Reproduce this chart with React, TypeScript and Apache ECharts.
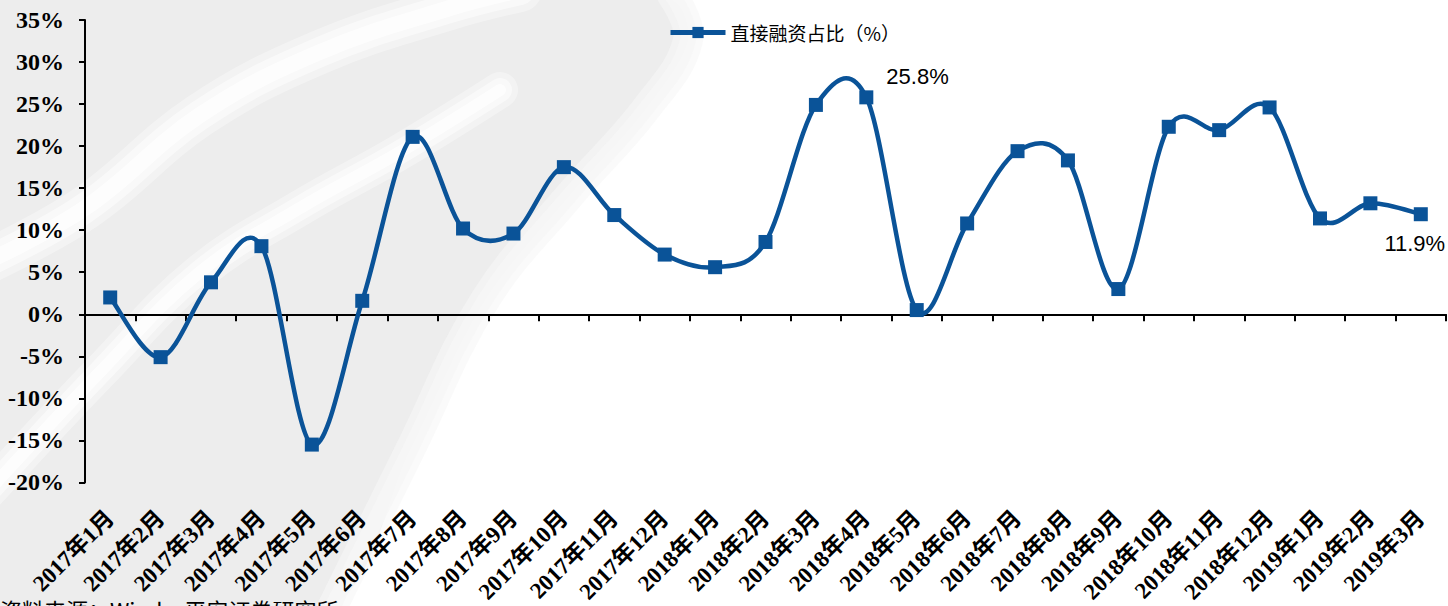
import React, { useEffect, useRef } from "react";
import * as echarts from "echarts";

const categories = [
  "2017年1月", "2017年2月", "2017年3月", "2017年4月", "2017年5月", "2017年6月",
  "2017年7月", "2017年8月", "2017年9月", "2017年10月", "2017年11月", "2017年12月",
  "2018年1月", "2018年2月", "2018年3月", "2018年4月", "2018年5月", "2018年6月",
  "2018年7月", "2018年8月", "2018年9月", "2018年10月", "2018年11月", "2018年12月",
  "2019年1月", "2019年2月", "2019年3月",
];

const directFinancingShare = [
  2.0, -5.1, 3.8, 8.1, -15.5, 1.6,
  21.1, 10.2, 9.6, 17.5, 11.8, 7.1,
  5.6, 8.6, 24.9, 25.8, 0.5, 10.8,
  19.4, 18.3, 3.0, 22.3, 21.9, 24.6,
  11.4, 13.2, 11.9,
];

const seriesName = "直接融资占比（%）";
const sourceNote = "资料来源：Wind，平安证券研究所";
const labelledIndexAbove = 15;
const labelledIndexBelow = 26;

const LINE_COLOR = "#0a5398";
const SERIF = "'Times New Roman', 'Liberation Serif', 'Noto Sans CJK SC', serif";

export default function App() {
  const ref = useRef<HTMLDivElement>(null);

  useEffect(() => {
    document.body.style.margin = "0";
    const chart = echarts.init(ref.current!, null, { renderer: "svg" });

    const pct = (p: any) => Number(p.value).toFixed(1) + "%";
    const data = directFinancingShare.map((v, i) => {
      if (i === labelledIndexAbove) {
        return { value: v, label: { show: true, position: "right", offset: [8, -21], formatter: pct } };
      }
      if (i === labelledIndexBelow) {
        return { value: v, label: { show: true, position: "bottom", offset: [-6, 6], formatter: pct } };
      }
      return v;
    });

    const curveData = directFinancingShare.map((v, i) => [i, v]);

    // Excel-like smoothed segment (Catmull-Rom with tension 1/6)
    const renderSegment = (params: any, api: any) => {
      const i = params.dataIndexInside;
      const n = params.dataInsideLength;
      if (i >= n - 1) return null;
      const pt = (j: number) => {
        const k = Math.max(0, Math.min(n - 1, j));
        return api.coord([api.value(0, k), api.value(1, k)]);
      };
      const p0 = pt(i - 1);
      const p1 = pt(i);
      const p2 = pt(i + 1);
      const p3 = pt(i + 2);
      const t = 1 / 6;
      return {
        type: "bezierCurve",
        shape: {
          x1: p1[0], y1: p1[1], x2: p2[0], y2: p2[1],
          cpx1: p1[0] + (p2[0] - p0[0]) * t,
          cpy1: p1[1] + (p2[1] - p0[1]) * t,
          cpx2: p2[0] - (p3[0] - p1[0]) * t,
          cpy2: p2[1] - (p3[1] - p1[1]) * t,
        },
        style: { stroke: LINE_COLOR, lineWidth: 4.5, fill: "none", lineCap: "round" },
        silent: true,
      };
    };

    const upperStripe = [[-20, 265], [85, 208], [200, 115], [320, 52], [450, 8], [520, -10]];
    const lowerStripe = [[-20, 500], [100, 372], [200, 272], [300, 208], [400, 152], [500, 90]];
    const grayEdge = [[672, -5], [688, 40], [645, 110], [570, 195], [485, 300], [410, 450], [330, 612]];

    const softLine = (points: number[][], stroke: string, widths: number[], opacities: number[]) =>
      widths.map((w, k) => ({
        type: "polyline",
        z: -9,
        silent: true,
        shape: { points, smooth: 0.4 },
        style: { stroke, lineWidth: w, opacity: opacities[k], fill: "none", lineCap: "round" },
      }));

    const option: any = {
      animation: false,
      backgroundColor: "#ffffff",
      graphic: [
        {
          type: "polygon",
          z: -10,
          silent: true,
          shape: {
            points: [
              [0, 0], [670, 0], [688, 40], [645, 110], [570, 195],
              [485, 300], [410, 450], [330, 606], [0, 606],
            ],
            smooth: 0.3,
          },
          style: { fill: "#ededed" },
        },
        ...softLine(grayEdge, "#f6f6f6", [30, 16], [0.6, 0.8]),
        ...softLine(upperStripe, "#ffffff", [44, 30, 16], [0.35, 0.5, 0.7]),
        ...softLine(lowerStripe, "#ffffff", [36, 24, 12], [0.35, 0.5, 0.7]),
        {
          type: "text",
          left: 0,
          top: 598,
          silent: true,
          style: {
            text: sourceNote,
            fill: "#000",
            font: "22px 'Noto Sans CJK SC', sans-serif",
          },
        },
      ],
      legend: {
        left: 663,
        top: 18,
        itemWidth: 55,
        itemHeight: 14,
        itemGap: 10,
        textStyle: {
          fontSize: 19,
          color: "#000",
          fontFamily: "'Noto Sans CJK SC', serif",
        },
        data: [
          {
            name: seriesName,
            itemStyle: { color: LINE_COLOR },
            lineStyle: { color: LINE_COLOR, width: 5, opacity: 1 },
          },
        ],
      },
      grid: { left: 85, right: 2, top: 20, bottom: 122, containLabel: false },
      xAxis: [
        {
          type: "category",
          data: categories,
          boundaryGap: true,
          axisLine: { show: true, onZero: true, lineStyle: { color: "#000", width: 2 } },
          axisTick: { show: true, interval: 0, length: 7, lineStyle: { color: "#000", width: 2 } },
          axisLabel: { show: false },
          splitLine: { show: false },
        },
        {
          type: "category",
          data: categories,
          position: "bottom",
          boundaryGap: true,
          axisLine: { show: false, onZero: false },
          axisTick: { show: false },
          axisLabel: {
            show: true,
            interval: 0,
            rotate: 45,
            margin: 32,
            color: "#000",
            fontSize: 23,
            fontWeight: "bold",
            fontFamily: SERIF,
          },
          splitLine: { show: false },
        },
      ],
      yAxis: {
        type: "value",
        min: -20,
        max: 35,
        interval: 5,
        axisLine: { show: true, onZero: false, lineStyle: { color: "#000", width: 2 } },
        axisTick: { show: true, length: 6, lineStyle: { color: "#000", width: 2 } },
        axisLabel: {
          formatter: "{value}%",
          color: "#000",
          fontSize: 24,
          fontWeight: "bold",
          fontFamily: SERIF,
          margin: 21,
        },
        splitLine: { show: false },
      },
      series: [
        {
          name: "平滑曲线",
          type: "custom",
          xAxisIndex: 0,
          data: curveData,
          encode: { x: 0, y: 1 },
          renderItem: renderSegment,
          z: 2,
          silent: true,
        },
        {
          name: seriesName,
          type: "line",
          xAxisIndex: 0,
          data,
          smooth: false,
          symbol: "rect",
          symbolSize: 14,
          lineStyle: { color: LINE_COLOR, width: 0, opacity: 0 },
          itemStyle: { color: LINE_COLOR },
          label: {
            color: "#000",
            fontSize: 22,
            fontFamily: "'Liberation Sans', Arial, sans-serif",
          },
          z: 3,
        },
      ],
    };

    chart.setOption(option);
    return () => chart.dispose();
  }, []);

  return <div ref={ref} style={{ width: 1448, height: 606 }} />;
}
